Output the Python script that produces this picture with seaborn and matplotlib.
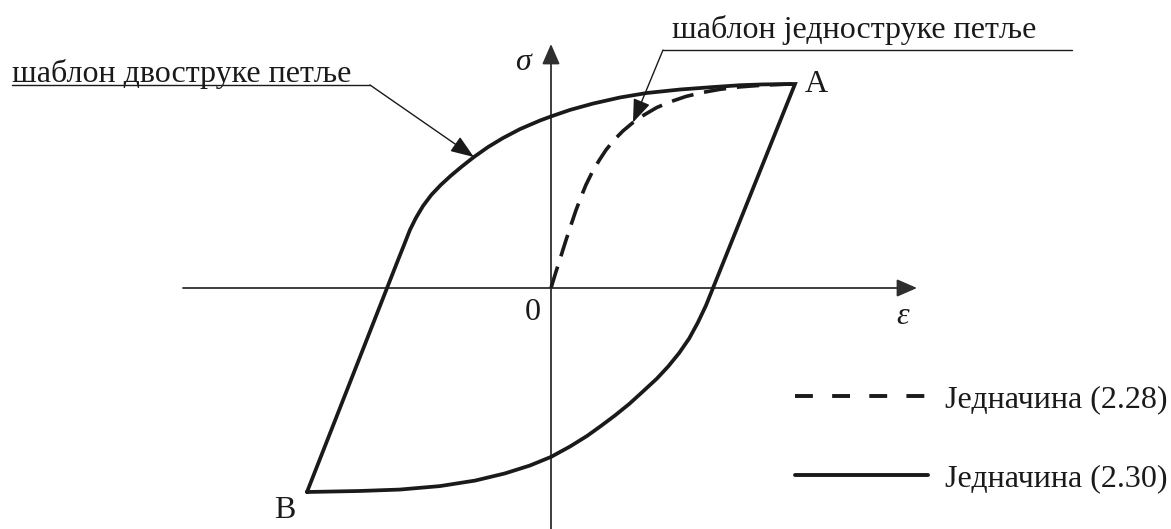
import matplotlib
matplotlib.use("Agg")
import matplotlib.pyplot as plt
from matplotlib.lines import Line2D
import pandas as pd
import seaborn as sns

# Normalised strain / stress: point A = (1, 1), point B = (-1, -1)
# Upper (loading) branch of the double loop, from B to A
upper_eps = [-1.0, -0.672, -0.631, -0.600, -0.578, -0.553, -0.524, -0.490, -0.451,
             -0.410, -0.365, -0.316, -0.258, -0.197, -0.127, -0.045, 0.0, 0.078,
             0.172, 0.283, 0.393, 0.529, 0.664, 0.775, 0.869, 0.939, 1.0]
upper_sig = [-1.0, 0.0, 0.125, 0.218, 0.285, 0.345, 0.403, 0.457, 0.506,
             0.551, 0.596, 0.642, 0.691, 0.735, 0.779, 0.821, 0.841, 0.873,
             0.904, 0.934, 0.956, 0.973, 0.985, 0.994, 0.998, 0.999, 1.0]
# Lower (unloading) branch of the double loop, from A to B
lower_eps = [1.0, 0.664, 0.635, 0.602, 0.566, 0.525, 0.480, 0.434, 0.377, 0.320,
             0.262, 0.205, 0.148, 0.078, 0.0, -0.086, -0.189, -0.311, -0.455,
             -0.619, -0.783, -1.0]
lower_sig = [1.0, 0.0, -0.086, -0.169, -0.248, -0.319, -0.385, -0.444, -0.507, -0.569,
             -0.625, -0.676, -0.725, -0.777, -0.828, -0.870, -0.909, -0.944, -0.971,
             -0.988, -0.995, -1.0]
# Single-loop skeleton curve, from the origin to A
single_eps = [0.0, 0.020, 0.041, 0.061, 0.082, 0.102, 0.123, 0.143, 0.168, 0.197,
              0.225, 0.258, 0.295, 0.336, 0.381, 0.434, 0.492, 0.553, 0.619, 0.693,
              0.775, 0.865, 0.959, 1.0]
single_sig = [0.0, 0.078, 0.157, 0.233, 0.309, 0.380, 0.446, 0.505, 0.566, 0.625,
              0.676, 0.725, 0.770, 0.811, 0.848, 0.885, 0.914, 0.939, 0.958, 0.974,
              0.986, 0.994, 0.999, 1.0]

label_double = "шаблон двоструке петље"
label_single = "шаблон једноструке петље"
legend_labels = ["Једначина (2.28)", "Једначина (2.30)"]
point_labels = ["A", "B"]

W, H = 1171, 529
EPS_PX, SIG_PX = 244.0, 204.0     # pixels per unit strain / stress
X0, Y0 = 551.0, 288.0             # origin in pixels (from top-left)


def pos(px, py):
    """Pixel position (from the top-left corner) -> data coordinates."""
    return (px - X0) / EPS_PX, (Y0 - py) / SIG_PX


sns.set_theme(style="white")
plt.rcParams["font.family"] = ["Liberation Serif", "DejaVu Serif"]

INK = "#1a1a1a"
AXC = "#2e2e2e"
FS = 23

fig = plt.figure(figsize=(W / 100, H / 100), dpi=100)
fig.patch.set_facecolor("white")
ax = fig.add_axes([0, 0, 1, 1])
ax.set_xlim(-X0 / EPS_PX, (W - X0) / EPS_PX)
ax.set_ylim(-(H - Y0) / SIG_PX, Y0 / SIG_PX)
ax.axis("off")

# coordinate axes with arrow heads
head = "-|>,head_length=0.62,head_width=0.27"
ax.annotate("", xy=pos(917, Y0), xytext=pos(183, Y0),
            arrowprops=dict(arrowstyle=head, lw=1.3, color=AXC, shrinkA=0, shrinkB=0,
                            mutation_scale=20))
ax.annotate("", xy=pos(X0, 44), xytext=pos(X0, H + 2),
            arrowprops=dict(arrowstyle=head, lw=1.3, color=AXC, shrinkA=0, shrinkB=0,
                            mutation_scale=20))

# single-loop curve (dashed)
single = pd.DataFrame({"eps": single_eps, "sig": single_sig})
sns.lineplot(data=single, x="eps", y="sig", sort=False, estimator=None, ax=ax,
             color=INK, lw=2.6, legend=False, zorder=3)
ax.lines[-1].set_dashes((6.2, 3.0))
ax.lines[-1].set_dash_capstyle("butt")

# double loop (solid)
loop = pd.DataFrame({"eps": upper_eps + lower_eps[1:], "sig": upper_sig + lower_sig[1:]})
sns.lineplot(data=loop, x="eps", y="sig", sort=False, estimator=None, ax=ax,
             color=INK, lw=2.7, legend=False, zorder=4)
ax.lines[-1].set_solid_joinstyle("miter")

# axis symbols and point names
ax.text(*pos(523, 62), "σ", fontsize=FS, style="italic", color=INK, ha="center", va="center")
ax.text(*pos(903, 316), "ε", fontsize=FS, style="italic", color=INK, ha="center", va="center")
ax.text(*pos(533, 312), "0", fontsize=FS, color=INK, ha="center", va="center")
ax.text(upper_eps[-1] + 21 / EPS_PX, upper_sig[-1], point_labels[0], fontsize=FS,
        color=INK, ha="center", va="center")
ax.text(upper_eps[0] - 22 / EPS_PX, upper_sig[0] - 18 / SIG_PX, point_labels[1], fontsize=FS,
        color=INK, ha="center", va="center")

# leader labels
lead = dict(arrowstyle="-|>,head_length=0.8,head_width=0.3", lw=1.0, color=INK,
            shrinkA=0, shrinkB=0, mutation_scale=18)

ax.text(*pos(12, 82), label_double, fontsize=FS, color=INK, ha="left", va="baseline")
ax.plot(*zip(pos(12, 85), pos(370, 85)), color=INK, lw=1.0)
ax.annotate("", xy=(upper_eps[11], upper_sig[11]), xytext=pos(370, 85), arrowprops=lead)

ax.text(*pos(672, 38), label_single, fontsize=FS, color=INK, ha="left", va="baseline")
ax.plot(*zip(pos(663, 50), pos(1072, 50)), color=INK, lw=1.0)
ax.annotate("", xy=(single_eps[13], single_sig[13]), xytext=pos(663, 50), arrowprops=lead)

# legend
handles = [
    Line2D([], [], color=INK, lw=2.8, dashes=(4.6, 4.95), dash_capstyle="butt"),
    Line2D([], [], color=INK, lw=2.8),
]
leg = ax.legend(handles, legend_labels, loc="center left",
                bbox_to_anchor=(795 / W, 1 - 439 / H), bbox_transform=fig.transFigure,
                frameon=False, fontsize=FS, handlelength=4.15, handletextpad=0.55,
                labelspacing=1.53, borderpad=0, borderaxespad=0)
for t in leg.get_texts():
    t.set_color(INK)

fig.savefig("out.png", dpi=100, facecolor="white")
